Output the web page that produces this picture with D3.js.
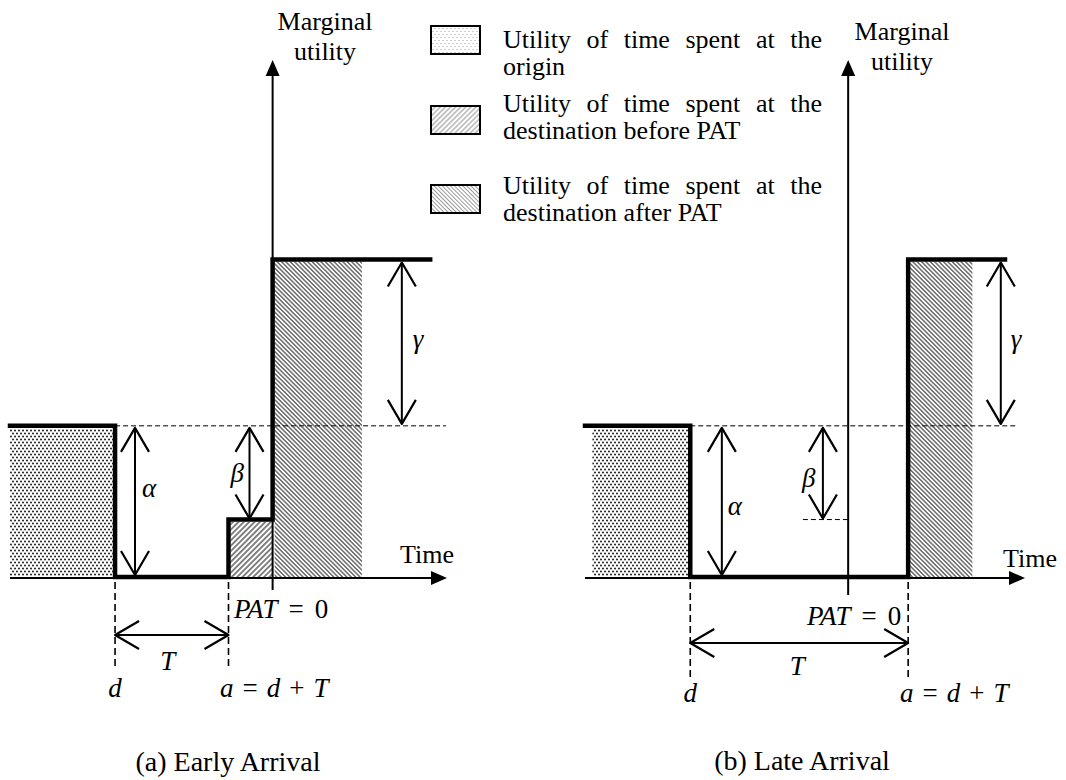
<!DOCTYPE html>
<html>
<head>
<meta charset="utf-8">
<script src="https://cdn.jsdelivr.net/npm/d3@7"></script>
<style>
    body { margin: 0; background: #fff; }
    svg { display: block; }
    text { font-family: 'Liberation Serif', 'Times New Roman', serif; font-size: 26px; fill: #000; }
    text.math { font-size: 27px; }
</style>
</head>
<body>
<svg id="chart"></svg>
<script>
const panelCaptions = ['(a) Early Arrival', '(b) Late Arrival'];
const timeStart = [-25, -25];
const timeEnd = [16.6, 16.8];
const departTime = [-15, -15];
const arriveTime = [-4.2, 5.7];
const originShadeStart = [-25, -24.3];
const afterShadeEnd = [8.5, 11.8];
const stepLineEnd = [15, 14.9];
const alphaDashEnd = [16.5, 15.9];
const betaTickStart = [null, -4.3];

// marginal utility levels (origin level = alpha)
const alpha = 1.0;
const beta = 0.62;
const gamma = 1.1;
const utilityMax = 3.42;

// where the double arrows sit on the time axis
const alphaArrowTime = [-13.1, -12.0];
const betaArrowTime = [-2.2, -2.4];
const gammaArrowTime = [12.3, 14.5];

const legendLines = [
    ['Utility of time spent at the', 'origin'],
    ['Utility of time spent at the', 'destination before PAT'],
    ['Utility of time spent at the', 'destination after PAT'],
];

const width = 1066;
const height = 780;

const panelRange = [[10, 447], [585, 1025]];
const panelLayout = [
    {
        axisBottom: 590, dashBottom: 670, tArrowY: 635, tLabelY: 670, tLabelDx: -4,
        titleX: 325, titleY: 30, timeX: 400, timeY: 563,
        alphaLabel: [7, 497], betaLabel: [-19, 482], gammaLabel: [11, 348],
        patX: 234, patY: 618, dY: 697, aEqX: 220, capX: 228, capY: 771,
    },
    {
        axisBottom: 595, dashBottom: 677, tArrowY: 643, tLabelY: 675, tLabelDx: -2,
        titleX: 902, titleY: 40, timeX: 1003, timeY: 567,
        alphaLabel: [6, 515], betaLabel: [-21, 487], gammaLabel: [10, 348],
        patX: 807, patY: 625, dY: 702, aEqX: 900, capX: 802, capY: 770,
    },
];

const svg = d3.select('#chart').attr('width', width).attr('height', height);
svg.append('rect').attr('width', width).attr('height', height).attr('fill', '#fff');

const defs = svg.append('defs');

function dotPattern(id, color, r) {
    const p = defs.append('pattern')
        .attr('id', id)
        .attr('patternUnits', 'userSpaceOnUse')
        .attr('width', 4)
        .attr('height', 6);
    p.append('rect').attr('width', 4).attr('height', 6).attr('fill', '#fff');
    p.append('circle').attr('cx', 1).attr('cy', 1.5).attr('r', r).attr('fill', color);
    p.append('circle').attr('cx', 3).attr('cy', 4.5).attr('r', r).attr('fill', color);
}

function hatchPattern(id, angle, gap, w, color) {
    const p = defs.append('pattern')
        .attr('id', id)
        .attr('patternUnits', 'userSpaceOnUse')
        .attr('width', gap)
        .attr('height', gap)
        .attr('patternTransform', `rotate(${angle})`);
    p.append('rect').attr('width', gap).attr('height', gap).attr('fill', '#fff');
    p.append('line')
        .attr('x1', gap / 2).attr('x2', gap / 2)
        .attr('y1', 0).attr('y2', gap)
        .attr('stroke', color)
        .attr('stroke-width', w);
}

dotPattern('dots', '#111', 0.95);
dotPattern('dotsLight', '#999', 0.6);
hatchPattern('fwd', 45, 3.8, 1.2, '#333');
hatchPattern('fwdLight', 45, 3.6, 1.1, '#999');
hatchPattern('back', -45, 3.1, 1.0, '#222');
hatchPattern('backLight', -45, 2.9, 1.0, '#999');

function doubleArrow(g, x1, y1, x2, y2) {
    const len = Math.hypot(x2 - x1, y2 - y1);
    const ux = (x2 - x1) / len;
    const uy = (y2 - y1) / len;
    const nx = -uy;
    const ny = ux;
    const headLen = 24;
    const headHalf = 14;
    g.append('line')
        .attr('x1', x1).attr('y1', y1)
        .attr('x2', x2).attr('y2', y2)
        .attr('stroke', '#000')
        .attr('stroke-width', 2);
    const head = (tx, ty, dir) => {
        const bx = tx - dir * ux * headLen;
        const by = ty - dir * uy * headLen;
        g.append('path')
            .attr('d', `M${bx + nx * headHalf},${by + ny * headHalf}L${tx},${ty}L${bx - nx * headHalf},${by - ny * headHalf}`)
            .attr('fill', 'none')
            .attr('stroke', '#000')
            .attr('stroke-width', 2.2)
            .attr('stroke-linejoin', 'round');
    };
    head(x2, y2, 1);
    head(x1, y1, -1);
}

function mathText(g, x, y, parts, anchor = 'start') {
    const t = g.append('text')
        .attr('class', 'math')
        .attr('x', x)
        .attr('y', y)
        .attr('text-anchor', anchor);
    parts.forEach(([s, italic, dx]) => {
        t.append('tspan')
            .attr('dx', dx || 0)
            .style('font-style', italic ? 'italic' : 'normal')
            .text(s);
    });
    return t;
}

function dashed(g, x1, y1, x2, y2, dash, w) {
    g.append('line')
        .attr('x1', x1).attr('y1', y1)
        .attr('x2', x2).attr('y2', y2)
        .attr('stroke', '#000')
        .attr('stroke-width', w)
        .attr('stroke-dasharray', dash);
}

const y = d3.scaleLinear().domain([0, utilityMax]).range([577, 60]);

panelCaptions.forEach((caption, i) => {
    const x = d3.scaleLinear().domain([timeStart[i], timeEnd[i]]).range(panelRange[i]);
    const L = panelLayout[i];
    const g = svg.append('g');
    const d = departTime[i];
    const a = arriveTime[i];

    // shaded areas
    g.append('rect')
        .attr('x', x(originShadeStart[i]))
        .attr('y', y(alpha) + 3)
        .attr('width', x(d) - 2 - x(originShadeStart[i]))
        .attr('height', y(0) - y(alpha) - 4)
        .attr('fill', 'url(#dots)');
    if (a < 0) {
        g.append('rect')
            .attr('x', x(a) + 2)
            .attr('y', y(alpha - beta) + 2)
            .attr('width', x(0) - x(a) - 2)
            .attr('height', y(0) - y(alpha - beta) - 2)
            .attr('fill', 'url(#fwd)');
    }
    const afterStart = Math.max(0, a);
    g.append('rect')
        .attr('x', x(afterStart) + 2)
        .attr('y', y(alpha + gamma) + 2)
        .attr('width', x(afterShadeEnd[i]) - x(afterStart) - 2)
        .attr('height', y(0) - y(alpha + gamma) - 2)
        .attr('fill', 'url(#back)');

    // reference dashes
    dashed(g, x(d), y(alpha), x(alphaDashEnd[i]), y(alpha), '5,3', 1);
    if (betaTickStart[i] !== null) {
        dashed(g, x(betaTickStart[i]), y(alpha - beta), x(0), y(alpha - beta), '5,3', 1);
    }
    dashed(g, x(d), y(0) + 5, x(d), L.dashBottom, '7,4', 1.6);
    dashed(g, x(a), y(0) + 5, x(a), L.dashBottom, '7,4', 1.6);

    // axes
    const axisY = y(0) + 1;
    g.append('line')
        .attr('x1', x(timeStart[i])).attr('y1', axisY)
        .attr('x2', x(timeEnd[i]) - 12).attr('y2', axisY)
        .attr('stroke', '#000').attr('stroke-width', 2);
    g.append('path')
        .attr('d', `M${x(timeEnd[i])},${axisY}L${x(timeEnd[i]) - 16},${axisY - 7}L${x(timeEnd[i]) - 16},${axisY + 7}Z`)
        .attr('fill', '#000');
    g.append('line')
        .attr('x1', x(0)).attr('y1', L.axisBottom)
        .attr('x2', x(0)).attr('y2', y(utilityMax) + 12)
        .attr('stroke', '#000').attr('stroke-width', 2);
    g.append('path')
        .attr('d', `M${x(0)},${y(utilityMax)}L${x(0) - 7},${y(utilityMax) + 16}L${x(0) + 7},${y(utilityMax) + 16}Z`)
        .attr('fill', '#000');

    // marginal utility step profile
    const steps = [[timeStart[i], alpha], [d, alpha], [d, 0], [a, 0]];
    if (a < 0) {
        steps.push([a, alpha - beta], [0, alpha - beta], [0, alpha + gamma]);
    } else {
        steps.push([a, alpha + gamma]);
    }
    steps.push([stepLineEnd[i], alpha + gamma]);
    g.append('path')
        .datum(steps)
        .attr('d', d3.line().x(p => x(p[0])).y(p => y(p[1])))
        .attr('fill', 'none')
        .attr('stroke', '#000')
        .attr('stroke-width', 4.5)
        .attr('stroke-linejoin', 'miter')
        .attr('stroke-linecap', 'square');

    // double arrows
    doubleArrow(g, x(alphaArrowTime[i]), y(alpha) + 2, x(alphaArrowTime[i]), y(0) - 2);
    doubleArrow(g, x(betaArrowTime[i]), y(alpha) + 2, x(betaArrowTime[i]), y(alpha - beta) - 1);
    doubleArrow(g, x(gammaArrowTime[i]), y(alpha + gamma) + 3, x(gammaArrowTime[i]), y(alpha) - 2);
    doubleArrow(g, x(d), L.tArrowY, x(a), L.tArrowY);

    // labels
    mathText(g, x(alphaArrowTime[i]) + L.alphaLabel[0], L.alphaLabel[1], [['α', true]]);
    mathText(g, x(betaArrowTime[i]) + L.betaLabel[0], L.betaLabel[1], [['β', true]]);
    mathText(g, x(gammaArrowTime[i]) + L.gammaLabel[0], L.gammaLabel[1], [['γ', true]]);
    mathText(g, (x(d) + x(a)) / 2 + L.tLabelDx, L.tLabelY, [['T', true]], 'middle');
    mathText(g, L.patX, L.patY, [['PAT', true], ['=', false, 11], ['0', false, 11]]);
    mathText(g, x(d), L.dY, [['d', true]], 'middle');
    mathText(g, L.aEqX, L.dY, [['a', true], ['=', false, 9], ['d', true, 9], ['+', false, 9], ['T', true, 9]]);

    g.append('text').attr('x', L.timeX).attr('y', L.timeY).text('Time');
    g.append('text').attr('x', L.titleX).attr('y', L.titleY).attr('text-anchor', 'middle').text('Marginal');
    g.append('text').attr('x', L.titleX).attr('y', L.titleY + 30).attr('text-anchor', 'middle').text('utility');

    g.append('text')
        .attr('x', L.capX)
        .attr('y', L.capY)
        .attr('text-anchor', 'middle')
        .style('font-size', '28px')
        .text(caption);
});

// legend
const legendBoxY = [26, 106, 185];
const legendTextY = [48, 112, 194];
const legendFills = ['url(#dotsLight)', 'url(#fwdLight)', 'url(#backLight)'];
const legendTextX = 503;
const legendRight = 822;

legendLines.forEach((lines, i) => {
    const g = svg.append('g');
    g.append('rect')
        .attr('x', 431)
        .attr('y', legendBoxY[i])
        .attr('width', 49)
        .attr('height', 28)
        .attr('fill', legendFills[i])
        .attr('stroke', '#000')
        .attr('stroke-width', 2);
    const first = g.append('text')
        .attr('x', legendTextX)
        .attr('y', legendTextY[i])
        .text(lines[0]);
    // the source text is justified, so spread the words out to the right edge
    const natural = first.node().getComputedTextLength();
    const gaps = lines[0].split(' ').length - 1;
    first.style('word-spacing', `${(legendRight - legendTextX - natural) / gaps}px`);
    g.append('text')
        .attr('x', legendTextX)
        .attr('y', legendTextY[i] + 27)
        .text(lines[1]);
});
</script>
</body>
</html>
